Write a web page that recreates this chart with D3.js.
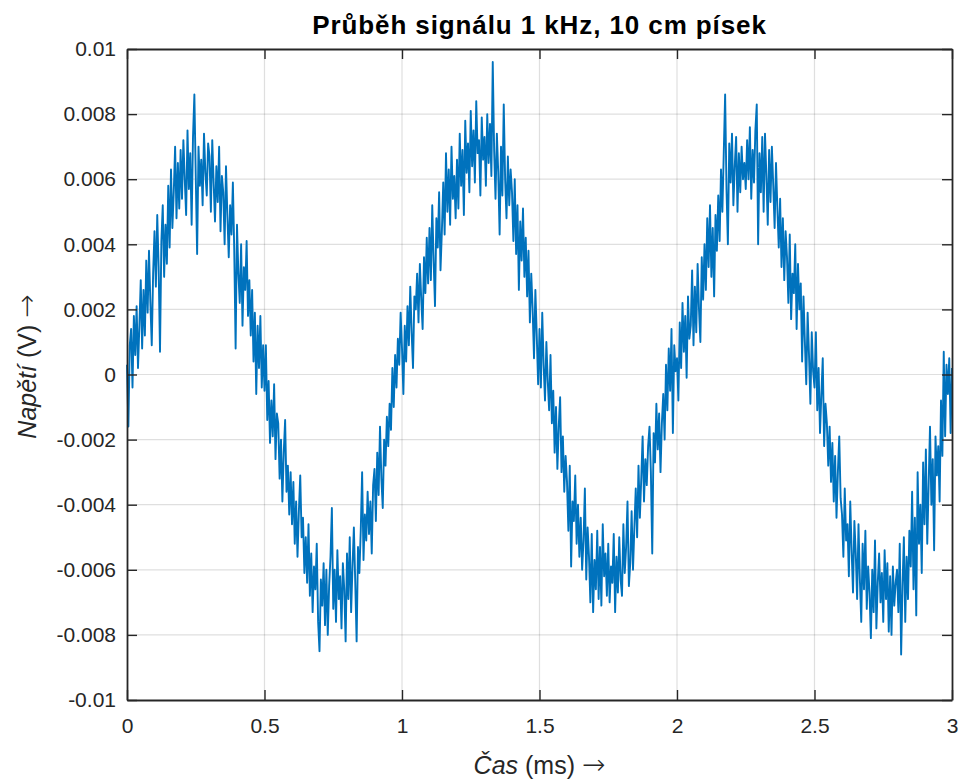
<!DOCTYPE html>
<meta charset="utf-8">
<style>
body { margin: 0; background: #fff; }
svg text { font-family: "Liberation Sans", Arial, Helvetica, sans-serif; fill: #262626; }
.grid line { stroke: #262626; stroke-opacity: 0.15; stroke-width: 1.2px; }
.axis path, .axis line { stroke: #262626; }
.arrow { font-family: "DejaVu Sans", sans-serif; font-weight: 200; font-size: 28px; }
</style>
<svg width="962" height="784"></svg>
<script src="https://d3js.org/d3.v7.min.js"></script>
<script>

// measured voltage in mV, one sample every 0.005 ms
var sampleStep = 0.005;

var cycle1 = [
  0.3, -1.6, 0.9, 1.4, -0.4, 1.8, 0.6, 2.1, 0.2, 1.5,
  2.9, 0.8, 2.6, 1.2, 3.5, 1.9, 3.8, 2.2, 0.9, 3.1,
  4.4, 2.7, 4.9, 3.3, 0.7, 4.1, 5.2, 3.0, 4.6, 3.4,
  5.8, 3.9, 6.3, 4.5, 5.6, 7.0, 4.8, 6.5, 5.1, 6.9,
  5.4, 7.2, 6.0, 4.9, 7.5, 5.7, 6.8, 4.6, 7.3, 8.6,
  6.1, 3.7, 7.0, 5.8, 6.6, 5.2, 7.4, 6.2, 5.5, 7.1,
  6.7, 5.0, 7.2, 5.9, 4.7, 6.4, 5.3, 7.0, 4.4, 6.1,
  5.6, 4.0, 6.4, 4.9, 3.6, 5.2, 4.3, 5.9, 3.8, 0.8,
  4.6, 3.1, 2.2, 4.0, 1.5, 3.3, 2.6, 4.1, 1.8, 2.9,
  1.2, 2.6, 0.4, 1.9, -0.6, 1.5, 0.2, 1.8, -0.4, 0.9,
  -0.5, 0.9, -1.4, -0.2, -2.1, -0.8, -1.9, -0.3, -2.6, -1.2,
  -1.5, -3.2, -2.0, -3.9, -2.4, -1.4, -3.6, -2.8, -4.3, -3.0,
  -4.6, -3.3, -5.2, -3.9, -5.6, -4.2, -3.1, -5.0, -4.4, -6.1,
  -5.0, -6.4, -4.6, -6.8, -5.5, -7.3, -5.9, -6.6, -5.2, -7.6,
  -8.5, -6.3, -7.1, -5.8, -7.7, -6.0, -8.0, -6.5, -5.6, -4.1,
  -7.2, -6.0, -7.6, -5.4, -6.9, -6.2, -7.8, -5.8, -6.6, -8.2,
  -5.5, -6.9, -5.0, -7.3, -5.9, -4.7, -6.4, -8.2, -5.3, -6.1,
  -4.8, -3.0, -5.7, -4.3, -5.1, -3.6, -4.9, -3.9, -5.5, -3.4,
  -2.9, -4.5, -2.4, -3.7, -1.6, -3.2, -4.1, -2.0, -2.8, -1.3,
  -2.2, -0.9, -1.7, 0.2, -1.0, 0.6, -0.4, 1.1, 0.3, 1.9
];

var cycle2 = [
  0.8, -0.6, 1.5, 0.4, 2.1, 0.9, 2.7, 1.3, 0.2, 2.4,
  2.0, 3.1, 1.6, 3.4, 2.3, 1.4, 3.6, 2.5, 4.2, 2.8,
  4.5, 2.9, 5.2, 3.5, 2.1, 4.8, 3.9, 5.6, 3.2, 4.4,
  5.9, 4.3, 6.8, 5.0, 6.3, 4.6, 7.0, 5.4, 6.1, 4.8,
  6.6, 5.1, 7.4, 5.8, 6.9, 4.9, 7.8, 6.2, 7.1, 5.6,
  8.1, 6.4, 7.5, 5.9, 8.4, 6.8, 7.2, 5.5, 7.9, 6.6,
  7.3, 5.8, 8.0, 6.5, 7.7, 6.1, 9.6, 6.9, 5.4, 7.4,
  6.2, 4.3, 7.0, 5.5, 8.3, 6.0, 4.8, 6.7, 5.2, 6.3,
  5.6, 4.1, 6.0, 3.7, 5.2, 2.6, 4.7, 3.5, 5.1, 3.0,
  4.2, 2.4, 3.8, 1.6, 3.1, 2.0, 0.5, 2.6, 1.2, -0.3,
  1.4, -0.4, 1.9, 0.3, -0.8, 1.0, -0.2, -1.1, 0.6, -1.5,
  -0.5, -2.4, -1.0, -2.9, -1.6, -0.7, -3.0, -1.9, -3.6, -2.5,
  -3.3, -4.8, -2.8, -5.9, -3.9, -4.5, -3.1, -5.2, -4.0, -5.6,
  -4.4, -6.0, -5.1, -3.5, -6.3, -4.7, -5.6, -7.0, -4.9, -7.3,
  -5.7, -6.6, -4.8, -6.9, -5.3, -7.1, -4.6, -6.2, -5.5, -6.8,
  -5.2, -7.0, -5.9, -6.4, -4.9, -7.3, -5.6, -6.7, -5.0, -6.3,
  -6.8, -4.6, -6.1, -5.3, -3.9, -6.5, -5.8, -4.2, -6.0, -4.7,
  -3.5, -5.0, -2.8, -4.4, -3.2, -1.9, -3.9, -2.6, -3.4, -2.2,
  -1.6, -3.0, -5.5, -1.8, -2.7, -0.9, -2.3, -1.2, -3.0, -1.5,
  -0.6, -2.0, 0.3, -1.1, 0.8, -0.5, 1.4, -1.8, 0.9, 0.1
];

var cycle3 = [
  0.5, -0.8, 1.6, 0.2, 2.2, 0.7, 1.8, -0.1, 2.4, 1.1,
  1.5, 3.2, 0.9, 2.7, 1.3, 3.4, 2.0, 1.0, 3.6, 2.3,
  4.0, 2.6, 4.8, 3.3, 5.2, 3.0, 4.5, 2.4, 4.9, 3.8,
  5.5, 4.1, 6.3, 5.0, 6.8, 8.6, 5.7, 4.0, 7.1, 5.9,
  7.4, 5.2, 6.4, 7.3, 5.0, 6.8, 5.6, 7.0, 6.0, 6.5,
  5.7, 7.2, 6.0, 7.6, 5.4, 6.9, 5.9, 7.5, 8.3, 4.0,
  6.8, 5.6, 7.3, 5.0, 7.4, 6.1, 4.6, 6.9, 5.3, 7.0,
  5.8, 4.5, 6.5, 5.1, 3.9, 5.4, 3.3, 4.8, 2.9, 4.4,
  3.6, 2.2, 4.3, 1.7, 3.1, 2.5, 4.0, 1.4, 3.4, 2.0,
  2.8, 0.4, 2.4, 1.0, -0.3, 1.9, 0.6, -0.9, 1.3, 0.1,
  -0.4, 1.3, -1.1, 0.2, -1.8, -0.6, 0.5, -2.2, -0.9, -1.5,
  -2.8, -1.6, -3.3, -2.1, -3.9, -2.5, -4.4, -3.0, -1.9, -3.8,
  -4.3, -5.6, -3.5, -5.1, -4.6, -6.2, -3.9, -5.4, -6.7, -4.5,
  -5.5, -6.9, -4.6, -6.3, -7.6, -5.2, -6.6, -4.8, -7.2, -5.9,
  -6.7, -8.1, -6.0, -7.3, -5.1, -7.8, -6.4, -5.5, -7.0, -6.1,
  -7.6, -5.4, -6.9, -5.8, -7.9, -6.2, -8.0, -5.9, -7.1, -6.4,
  -6.0, -7.3, -5.2, -8.6, -6.5, -5.0, -7.6, -5.6, -6.9, -4.8,
  -5.9, -3.6, -6.6, -4.4, -7.4, -3.0, -5.2, -4.0, -6.1, -2.7,
  -4.6, -2.3, -5.2, -3.4, -1.6, -4.0, -2.6, -5.4, -1.9, -3.1,
  -2.2, -3.9, -0.8, -2.5, 0.7, -1.9, 0.3, -0.6, 0.5, -1.8,
  0.2
];

var xTicks = [0, 0.5, 1, 1.5, 2, 2.5, 3];
var yTicks = [-0.01, -0.008, -0.006, -0.004, -0.002, 0, 0.002, 0.004, 0.006, 0.008, 0.01];
var chartTitle = "Průběh signálu 1 kHz, 10 cm písek";

var samples = cycle1.concat(cycle2, cycle3).map(function(v, i) {
  return { t: i * sampleStep, u: v / 1000 };
});

var svg = d3.select("svg"),
    margin = {top: 49, right: 10, bottom: 84, left: 127},
    width = +svg.attr("width") - margin.left - margin.right,
    height = +svg.attr("height") - margin.top - margin.bottom;

var x = d3.scaleLinear().domain([0, 3]).range([0, width]);
var y = d3.scaleLinear().domain([-0.01, 0.01]).range([height, 0]);

var g = svg.append("g").attr("transform", "translate(" + margin.left + "," + margin.top + ")");

// grid
var grid = g.append("g").attr("class", "grid");
grid.selectAll(".gx").data(xTicks.slice(1, -1)).enter().append("line")
    .attr("x1", function(d) { return x(d); }).attr("x2", function(d) { return x(d); })
    .attr("y1", 0).attr("y2", height);
grid.selectAll(".gy").data(yTicks.slice(1, -1)).enter().append("line")
    .attr("y1", function(d) { return y(d); }).attr("y2", function(d) { return y(d); })
    .attr("x1", 0).attr("x2", width);

// signal
var line = d3.line()
    .x(function(d) { return x(d.t); })
    .y(function(d) { return y(d.u); });

g.append("path")
    .datum(samples)
    .attr("fill", "none")
    .attr("stroke", "#0072bd")
    .attr("stroke-width", 1.9)
    .attr("stroke-linejoin", "round")
    .attr("d", line);

// axes, ticks pointing inward on all four sides
function styleAxis(sel) {
  sel.attr("class", "axis").attr("font-size", null).attr("font-family", null);
  sel.select(".domain").attr("stroke-width", 1.8);
  sel.selectAll(".tick line").attr("stroke-width", 1.4);
  sel.selectAll("text").style("font-size", "21px");
}

g.append("g")
    .attr("transform", "translate(0," + height + ")")
    .call(d3.axisBottom(x).tickValues(xTicks).tickSize(-10).tickSizeOuter(0).tickPadding(18)
        .tickFormat(function(d) { return String(d); }))
    .call(styleAxis);

g.append("g")
    .call(d3.axisLeft(y).tickValues(yTicks).tickSize(-10).tickSizeOuter(0).tickPadding(11)
        .tickFormat(function(d) { return String(d); }))
    .call(styleAxis);

g.append("g")
    .call(d3.axisTop(x).tickValues(xTicks).tickSize(-10).tickSizeOuter(0).tickFormat(""))
    .call(styleAxis);

g.append("g")
    .attr("transform", "translate(" + width + ",0)")
    .call(d3.axisRight(y).tickValues(yTicks).tickSize(-10).tickSizeOuter(0).tickFormat(""))
    .call(styleAxis);

// title
svg.append("text")
    .attr("x", margin.left + width / 2)
    .attr("y", 34)
    .attr("text-anchor", "middle")
    .style("font-size", "26px")
    .style("font-weight", "bold")
    .style("letter-spacing", "0.9px")
    .style("fill", "#000")
    .text(chartTitle);

// x label
var xl = svg.append("text")
    .attr("x", margin.left + width / 2)
    .attr("y", 774)
    .attr("text-anchor", "middle")
    .style("font-size", "25px");
xl.append("tspan").style("font-style", "italic").text("Čas");
xl.append("tspan").text(" (ms) ");
xl.append("tspan").attr("class", "arrow").text("→");

// y label
var yl = svg.append("text")
    .attr("transform", "translate(36," + (margin.top + height / 2 - 8) + ") rotate(-90)")
    .attr("text-anchor", "middle")
    .style("font-size", "25px");
yl.append("tspan").style("font-style", "italic").text("Napětí");
yl.append("tspan").text(" (V) ");
yl.append("tspan").attr("class", "arrow").text("→");

</script>
